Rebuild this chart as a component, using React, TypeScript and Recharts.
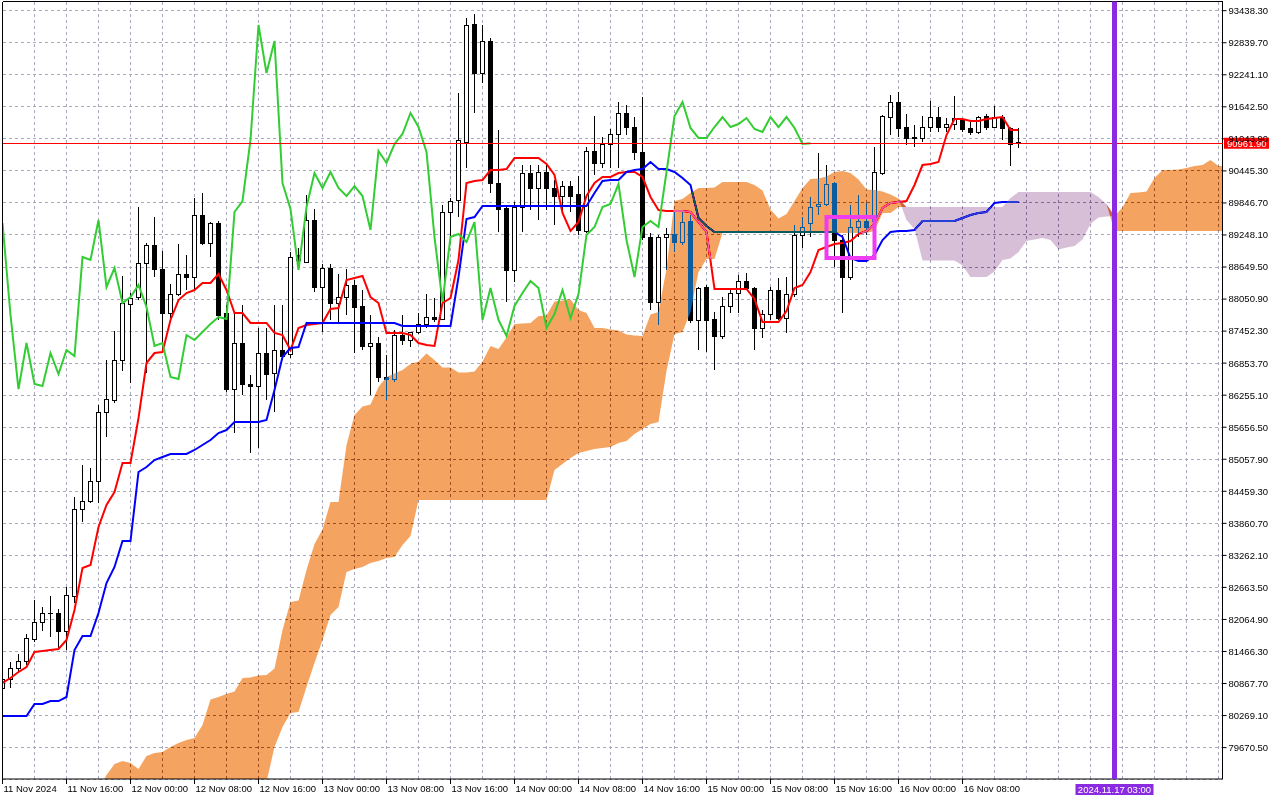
import React from 'react';
import {
  ComposedChart,
  Bar,
  Line,
  Area,
  XAxis,
  YAxis,
  CartesianGrid,
  ReferenceLine,
  ReferenceArea,
} from 'recharts';

// BTCUSD H1, 11 Nov 08:00 .. 16 Nov 15:00, Ichimoku (9/26/52)
const OPEN = [
  80784, 80952, 81158, 81289, 81700, 82017, 82180, 82185, 81849, 82503,
  84128, 84278, 84651, 85941, 86165, 86912, 87958, 88089, 88724, 89061,
  88612, 87790, 88145, 88519, 88463, 89621, 89098, 89472, 87790, 86370,
  87230, 86464, 86426, 87043, 86669, 87099, 87024, 88874, 88743, 89528,
  88276, 88631, 87977, 88089, 88313, 87921, 87174, 87230, 86594, 86557,
  87379, 87286, 87435, 87585, 87715, 87678, 89677, 89902, 90985, 93190,
  92274, 92872, 90219, 89752, 88594, 89771, 90406, 90126, 90425, 90126,
  89976, 90163, 90014, 89322, 90817, 90593, 90948, 91135, 91527, 91265,
  90798, 89210, 87996, 89210, 89266, 89117, 89509, 87660, 88276, 87678,
  87360, 87921, 88164, 88388, 88257, 87510, 87772, 88220, 87697, 88145,
  89248, 89472, 89789, 89827, 90219, 89154, 88463, 89397, 89509, 89509,
  90406, 91452, 91732, 91265, 91078, 91060, 91265, 91452, 91265, 91321,
  91396, 91247, 91172, 91471, 91265, 91452, 91247, 90985,
];
const HIGH = [
  81027, 81270, 81419, 81793, 82428, 82297, 82503, 82260, 82671, 84353,
  84950, 84894, 86071, 86912, 87454, 88481, 88164, 89771, 89098, 89584,
  88949, 88332, 89079, 88874, 89939, 90032, 89490, 89509, 87940, 87790,
  87940, 86632, 87510, 87510, 87940, 87940, 88930, 89005, 89995, 89733,
  88706, 88706, 88519, 88612, 88407, 88220, 87753, 87342, 87005, 87473,
  87753, 87435, 87790, 88145, 88070, 89808, 89939, 91900, 93302, 93376,
  93171, 92928, 91209, 89808, 89864, 90555, 90555, 90555, 90555, 90275,
  90256, 90256, 90350, 90892, 91471, 91078, 91228, 91732, 91676, 91452,
  91826, 89285, 89248, 89378, 89677, 89677, 89621, 88276, 88313, 87809,
  88089, 88239, 88500, 88537, 88276, 87846, 88276, 88444, 88463, 89434,
  89584, 89958, 90780, 90555, 90238, 89248, 89808, 89995, 89845, 90892,
  91490, 91863, 91919, 91508, 91303, 91471, 91751, 91639, 91433, 91844,
  91433, 91396, 91471, 91508, 91658, 91490, 91260, 91247,
];
const LOW = [
  80709, 80784, 81064, 81214, 81643, 81849, 81737, 81494, 81494, 82372,
  83885, 84240, 84240, 85473, 86109, 86707, 86482, 88033, 86669, 88463,
  87043, 87697, 88108, 88220, 88220, 89061, 88837, 87660, 86314, 85548,
  86258, 85175, 85268, 86165, 85941, 86912, 86949, 88631, 88724, 88183,
  87435, 87660, 87622, 87753, 87043, 87099, 86258, 86501, 86165, 86501,
  87192, 87155, 87398, 87510, 87622, 87660, 89098, 89584, 90499, 91527,
  92087, 90032, 89303, 87996, 88369, 89303, 89715, 89528, 89715, 89434,
  89677, 89677, 89248, 89285, 90369, 90499, 90499, 90499, 91116, 90649,
  89154, 87846, 87566, 88594, 88930, 89061, 87603, 87099, 87062, 86725,
  87304, 87790, 87790, 88220, 87099, 87323, 87660, 87660, 87417, 88089,
  89005, 89210, 89621, 89789, 88650, 87790, 88407, 89210, 89248, 89248,
  90369, 91116, 91078, 90929, 90892, 90985, 91172, 91172, 91172, 91209,
  91172, 91116, 91135, 91209, 91247, 91022, 90537, 90873,
];
const CLOSE = [
  80952, 81158, 81289, 81718, 82017, 82185, 82190, 81849, 82522, 84128,
  84278, 84651, 85941, 86183, 86912, 87977, 88070, 88724, 89061, 88612,
  87790, 88145, 88519, 88463, 89621, 89098, 89472, 87753, 86370, 87230,
  86464, 86426, 87043, 86651, 87099, 86987, 88837, 88781, 89528, 88276,
  88631, 87977, 88089, 88313, 87902, 87174, 87230, 86594, 86557, 87379,
  87286, 87435, 87585, 87715, 87678, 89677, 89883, 91023, 93171, 92274,
  92872, 90219, 89733, 88594, 89771, 90406, 90126, 90425, 90126, 89976,
  90163, 89976, 89341, 90817, 90593, 90948, 91135, 91527, 91265, 90798,
  89210, 87996, 89210, 89266, 89117, 89490, 87660, 88257, 87660, 87360,
  87921, 88164, 88388, 88257, 87510, 87772, 88220, 87697, 88145, 89248,
  89397, 89771, 89827, 90200, 89154, 88463, 89397, 89509, 89397, 90425,
  91471, 91732, 91247, 91060, 91060, 91265, 91452, 91265, 91321, 91433,
  91228, 91172, 91452, 91265, 91452, 91247, 90948, 90962,
];

const TENKAN = [
  80878, 80971, 81083, 81176, 81457, 81475, 81494, 81513, 81681, 82241,
  83027, 83083, 83792, 84204, 84446, 84988, 84988, 85829, 86856, 87043,
  87062, 87660, 88033, 88164, 88220, 88351, 88351, 88519, 88220, 87790,
  87790, 87604, 87604, 87604, 87417, 87379, 87099, 87510, 87566, 87585,
  87604, 87865, 87884, 88407, 88444, 88482, 88089, 87977, 87417, 87417,
  87417, 87379, 87230, 87192, 87174, 87977, 88070, 88781, 90219, 90256,
  90275, 90462, 90462, 90481, 90686, 90686, 90686, 90686, 90574, 90369,
  89659, 89322, 89490, 89976, 90219, 90331, 90331, 90406, 90425, 90425,
  90331, 89958, 89715, 89696, 89696, 89696, 89677, 89490, 89304, 88239,
  88239, 88239, 88239, 88239, 88052, 87622, 87622, 87622, 87828, 88257,
  88313, 88556, 88967, 89023, 89079, 89098, 89135, 89266, 89322, 89453,
  89752, 89846, 89864, 89883, 90182, 90555, 90574, 90611, 91116, 91415,
  91415, 91377, 91377, 91415, 91434, 91452, 91209, 91209,
];
const KIJUN = [
  80261, 80261, 80261, 80261, 80485, 80485, 80541, 80541, 80616, 81494,
  81756, 81756, 82185, 82746, 83045, 83530, 83530, 84820, 84913, 85044,
  85100, 85156, 85156, 85156, 85231, 85324, 85418, 85548, 85604, 85754,
  85754, 85754, 85754, 85791, 86352, 86968, 87136, 87155, 87604, 87604,
  87604, 87604, 87604, 87604, 87604, 87604, 87604, 87604, 87604, 87604,
  87548, 87548, 87548, 87548, 87548, 87548, 87548, 88463, 89547, 89584,
  89789, 89789, 89789, 89789, 89789, 89789, 89789, 89789, 89789, 89789,
  89789, 89789, 89789, 89789, 90032, 90256, 90275, 90275, 90425, 90462,
  90481, 90611, 90481, 90481, 90425, 90313, 90182, 89565, 89416, 89304,
  89304, 89304, 89304, 89304, 89304, 89304, 89304, 89304, 89304, 89304,
  89304, 89304, 89304, 89304, 89304, 89210, 88818, 88762, 88762, 88874,
  89154, 89304, 89322, 89322, 89341, 89509, 89509, 89509, 89509, 89509,
  89565, 89621, 89659, 89677, 89846, 89864, 89864, 89864,
];
// lagging line, plotted 26 bars back
const CHIKOU = [
  89472, 87753, 86370, 87230, 86464, 86426, 87043, 86651, 87099, 86987,
  88837, 88781, 89528, 88276, 88631, 87977, 88089, 88313, 87902, 87174,
  87230, 86594, 86557, 87379, 87286, 87435, 87585, 87715, 87678, 89677,
  89883, 91023, 93171, 92274, 92872, 90219, 89733, 88594, 89771, 90406,
  90126, 90425, 90126, 89976, 90163, 89976, 89341, 90817, 90593, 90948,
  91135, 91527, 91265, 90798, 89210, 87996, 89210, 89266, 89117, 89490,
  87660, 88257, 87660, 87360, 87921, 88164, 88388, 88257, 87510, 87772,
  88220, 87697, 88145, 89248, 89397, 89771, 89827, 90200, 89154, 88463,
  89397, 89509, 89397, 90425, 91471, 91732, 91247, 91060, 91060, 91265,
  91452, 91265, 91321, 91433, 91228, 91172, 91452, 91265, 91452, 91247,
  90948, 90962,
];
// leading spans, plotted 26 bars ahead
const SPAN_A = [
  77800, 77850, 77900, 77950, 78000, 78100, 78200, 78300, 78400, 78500,
  78600, 78750, 78880, 79159, 79364, 79420, 79383, 79271, 79514, 79570,
  79589, 79682, 79757, 79813, 79850, 80093, 80570, 80616, 80672, 80719,
  80971, 80980, 81018, 81027, 81149, 81868, 82392, 82420, 82989, 83475,
  83746, 84259, 84259, 85325, 85885, 86044, 86081, 86408, 86595, 86660,
  86726, 86838, 86885, 87034, 86912, 86772, 86772, 86679, 86679, 86698,
  86885, 87174, 87118, 87333, 87585, 87595, 87604, 87735, 87744, 88006,
  88024, 88043, 87847, 87791, 87511, 87511, 87483, 87464, 87389, 87370,
  87361, 87763, 87809, 88622, 89883, 89920, 90032, 90126, 90126, 90135,
  90238, 90238, 90238, 90238, 90182, 90079, 89724, 89556, 89640, 89883,
  90126, 90294, 90303, 90341, 90425, 90444, 90406, 90285, 90098, 90089,
  90061, 90005, 89930, 89528, 89360, 88772, 88772, 88772, 88772, 88772,
  88678, 88463, 88463, 88463, 88566, 88781, 88809, 88930, 89136, 89164,
  89192, 89154, 88977, 89014, 89042, 89164, 89453, 89575, 89593, 89603,
  89762, 90032, 90042, 90060, 90313, 90462, 90462, 90471, 90499, 90537,
  90556, 90649, 90537, 90537,
];
const SPAN_B = [
  77600, 77600, 77600, 77600, 77600, 77600, 77600, 77600, 77600, 77600,
  77600, 77600, 77600, 77600, 77600, 77600, 77600, 77600, 77600, 77600,
  77600, 77600, 77600, 77600, 77600, 77600, 77600, 77600, 77600, 77600,
  77600, 77600, 78692, 79028, 79682, 80055, 80317, 80336, 80803, 81251,
  81681, 82148, 82297, 82952, 83008, 83045, 83120, 83157, 83213, 83232,
  83456, 83624, 84297, 84297, 84297, 84297, 84297, 84297, 84297, 84297,
  84297, 84297, 84297, 84297, 84297, 84297, 84297, 84297, 84297, 84857,
  84969, 85082, 85175, 85212, 85250, 85268, 85287, 85362, 85399, 85529,
  85623, 85716, 85754, 86706, 87398, 87436, 87809, 88557, 88799, 88799,
  89285, 89285, 89285, 89285, 89285, 89285, 89285, 89285, 89285, 89285,
  89285, 89285, 89285, 89285, 89285, 89285, 89285, 89285, 89285, 89322,
  89659, 89659, 89771, 89771, 89771, 89771, 89771, 89771, 89771, 89771,
  89771, 89771, 89771, 89771, 89771, 89771, 89939, 90051, 90051, 90051,
  90051, 90051, 90051, 90051, 90051, 90051, 90051, 89958, 89827, 89322,
  89322, 89322, 89322, 89322, 89322, 89322, 89322, 89322, 89322, 89322,
  89322, 89322, 89322, 89322,
];

const PRICE_TICKS = [
  93438.3, 92839.7, 92241.1, 91642.5, 91043.9, 90445.3, 89846.7, 89248.1,
  88649.5, 88050.9, 87452.3, 86853.7, 86255.1, 85656.5, 85057.9, 84459.3,
  83860.7, 83262.1, 82663.5, 82064.9, 81466.3, 80867.7, 80269.1, 79670.5,
];
const TIME_LABELS = [
  '11 Nov 2024', '11 Nov 16:00', '12 Nov 00:00', '12 Nov 08:00',
  '12 Nov 16:00', '13 Nov 00:00', '13 Nov 08:00', '13 Nov 16:00',
  '14 Nov 00:00', '14 Nov 08:00', '14 Nov 16:00', '15 Nov 00:00',
  '15 Nov 08:00', '15 Nov 16:00', '16 Nov 00:00', '16 Nov 08:00',
];
const TIME_LABEL_BARS = [0, 8, 16, 24, 32, 40, 48, 56, 64, 72, 80, 88, 96, 104, 112, 120];
const GRID_BARS = [
  0, 4, 8, 12, 16, 20, 24, 28, 32, 36, 40, 44, 48, 52, 56, 60, 64, 68, 72, 76,
  80, 84, 88, 92, 96, 100, 104, 108, 112, 116, 120, 124, 128, 132, 136, 140,
  144, 148, 152,
];

const BID = 90961.9;
const MARKER_BAR = 139;
const MARKER_LABEL = '2024.11.17 03:00';
const BOX_BARS = [103, 109];
const BOX_PRICES = [88818, 89584];

const X_DOMAIN = [0, 152.5];
const Y_DOMAIN = [79084.1, 93610.2];

const FONT = '"Liberation Sans", Arial, sans-serif';

const rows = SPAN_A.map((a, i) => ({
  i,
  open: OPEN[i] ?? null,
  high: HIGH[i] ?? null,
  low: LOW[i] ?? null,
  close: CLOSE[i] ?? null,
  tenkan: TENKAN[i] ?? null,
  kijun: KIJUN[i] ?? null,
  chikou: CHIKOU[i] ?? null,
  spanA: a,
  spanB: SPAN_B[i],
}));

const Candle = (props: any) => {
  const { x, y, width, height, payload } = props;
  if (!payload || payload.open == null || x == null || y == null) return null;
  const top = Math.min(y, y + height);
  const h = Math.abs(height);
  const { open, high, low, close } = payload;
  const span = high - low || 1;
  const toY = (p: number) => top + ((high - p) / span) * h;
  const cx = Math.round(x + width / 2) + 0.5;
  const bTop = Math.round(toY(Math.max(open, close))) + 0.5;
  const bBot = Math.round(toY(Math.min(open, close))) + 0.5;
  const up = close >= open;
  return (
    <g>
      <line x1={cx} x2={cx} y1={top} y2={top + h} stroke="#000" strokeWidth={1} />
      <rect
        x={cx - 2}
        y={bTop}
        width={4}
        height={Math.max(bBot - bTop, 0.01)}
        fill={up ? '#fff' : '#000'}
        stroke="#000"
        strokeWidth={1}
      />
    </g>
  );
};

const TimeTick = ({ x, y, payload }: any) => {
  const k = TIME_LABEL_BARS.indexOf(payload.value);
  if (k < 0) return null;
  return (
    <g>
      <line x1={x} x2={x} y1={y} y2={y + 5} stroke="#000" />
      <text x={x + 1} y={y + 13} fontSize={9.5} fontFamily={FONT} fill="#000">
        {TIME_LABELS[k]}
      </text>
    </g>
  );
};

const BidLabel = ({ viewBox }: any) => {
  if (!viewBox) return null;
  const x = viewBox.x + viewBox.width + 1.5;
  return (
    <g>
      <rect x={x} y={viewBox.y - 5.5} width={45} height={11} fill="#ff0000" />
      <text x={x + 3} y={viewBox.y + 3.5} fontSize={9.5} fontFamily={FONT} fill="#fff">
        {BID.toFixed(2)}
      </text>
    </g>
  );
};

const MarkerLabel = ({ viewBox }: any) => {
  if (!viewBox) return null;
  const y = viewBox.y + viewBox.height + 5;
  return (
    <g>
      <rect x={viewBox.x - 39} y={y} width={78} height={11} fill="#8a2be2" />
      <text
        x={viewBox.x}
        y={y + 9}
        textAnchor="middle"
        fontSize={9.5}
        fontFamily={FONT}
        fill="#fff"
      >
        {MARKER_LABEL}
      </text>
    </g>
  );
};

export default function App() {
  return (
    <div style={{ position: 'absolute', left: 0, top: 0, width: 1280, height: 800, background: '#fff' }}>
      <style>{'.cloud { mix-blend-mode: difference; }'}</style>
      <ComposedChart
        width={1280}
        height={800}
        data={rows}
        margin={{ top: 1.5, right: 0, bottom: 0, left: 2.5 }}
      >
        <CartesianGrid
          stroke="#a9a9bd"
          strokeDasharray="3 3"
          fill="#fff"
          shapeRendering="crispEdges"
        />
        <XAxis
          dataKey="i"
          type="number"
          domain={X_DOMAIN}
          ticks={GRID_BARS}
          interval={0}
          allowDataOverflow
          height={21}
          axisLine={{ stroke: '#000' }}
          tickLine={false}
          tickSize={0}
          tickMargin={0}
          tick={<TimeTick />}
        />
        <YAxis
          orientation="right"
          type="number"
          domain={Y_DOMAIN}
          ticks={PRICE_TICKS}
          interval={0}
          allowDataOverflow
          width={57.5}
          axisLine={{ stroke: '#000' }}
          tickLine={{ stroke: '#000' }}
          tickSize={4}
          tickMargin={2}
          tick={{ fill: '#000', fontSize: 9.5, fontFamily: FONT }}
          tickFormatter={(v: number) => v.toFixed(2)}
        />

        <Bar
          dataKey={(d: any) => (d.open == null ? null : [d.low, d.high])}
          barSize={5}
          shape={(p: any) => <Candle {...p} />}
          isAnimationActive={false}
          zIndex={310}
        />
        <Line
          dataKey="tenkan"
          type="linear"
          stroke="#ff0000"
          strokeWidth={2}
          dot={false}
          activeDot={false}
          isAnimationActive={false}
          zIndex={410}
        />
        <Line
          dataKey="kijun"
          type="linear"
          stroke="#0000ff"
          strokeWidth={2}
          dot={false}
          activeDot={false}
          isAnimationActive={false}
          zIndex={420}
        />
        {/* cloud: difference blend reproduces the terminal's xor fill */}
        <Area
          className="cloud"
          dataKey={(d: any) => [d.spanB, Math.max(d.spanA, d.spanB)]}
          type="linear"
          fill="#0b5b9f"
          fillOpacity={1}
          stroke="none"
          activeDot={false}
          isAnimationActive={false}
          zIndex={450}
        />
        <Area
          className="cloud"
          dataKey={(d: any) => [d.spanA, Math.max(d.spanA, d.spanB)]}
          type="linear"
          fill="#274027"
          fillOpacity={1}
          stroke="none"
          activeDot={false}
          isAnimationActive={false}
          zIndex={451}
        />
        <Line
          dataKey="chikou"
          type="linear"
          stroke="#32cd32"
          strokeWidth={2}
          dot={false}
          activeDot={false}
          isAnimationActive={false}
          zIndex={460}
        />

        <ReferenceLine x={X_DOMAIN[0]} stroke="#000" shapeRendering="crispEdges" zIndex={600} />
        <ReferenceLine y={Y_DOMAIN[1]} stroke="#000" shapeRendering="crispEdges" zIndex={600} />
        <ReferenceLine
          y={BID}
          stroke="#ff0000"
          strokeWidth={1}
          shapeRendering="crispEdges"
          label={<BidLabel />}
          zIndex={650}
        />
        <ReferenceArea
          x1={BOX_BARS[0]}
          x2={BOX_BARS[1]}
          y1={BOX_PRICES[0]}
          y2={BOX_PRICES[1]}
          fill="none"
          fillOpacity={0}
          stroke="#f03cf0"
          strokeWidth={4}
          zIndex={700}
        />
        <ReferenceLine
          x={MARKER_BAR}
          stroke="#8a2be2"
          strokeWidth={5}
          label={<MarkerLabel />}
          zIndex={800}
        />
      </ComposedChart>
    </div>
  );
}
